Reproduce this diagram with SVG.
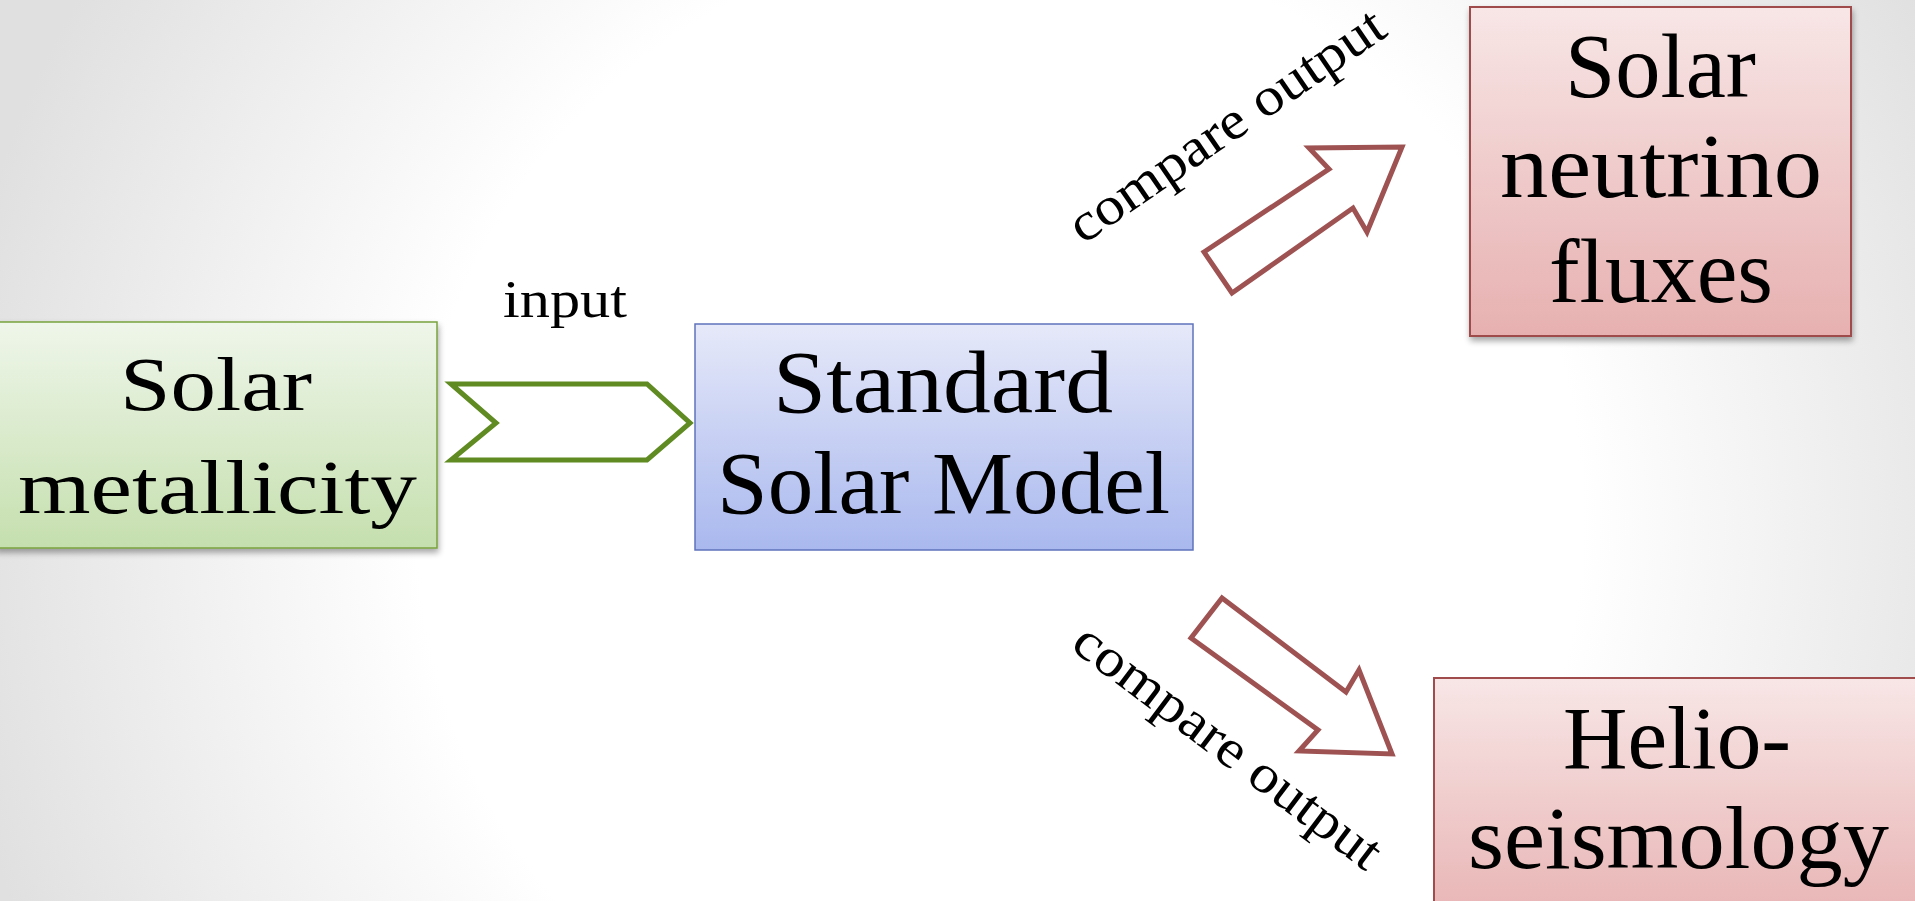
<svg xmlns="http://www.w3.org/2000/svg" width="1915" height="901" viewBox="0 0 1915 901">
<defs>
<radialGradient id="bg" gradientUnits="userSpaceOnUse" cx="1000" cy="520" r="1060">
<stop offset="0" stop-color="#ffffff"/>
<stop offset="0.55" stop-color="#ffffff"/>
<stop offset="1" stop-color="#e0e0e0"/>
</radialGradient>
<linearGradient id="gGreen" x1="0" y1="0" x2="0" y2="1">
<stop offset="0" stop-color="#eff6ea"/>
<stop offset="1" stop-color="#c5dfae"/>
</linearGradient>
<linearGradient id="gBlue" x1="0" y1="0" x2="0" y2="1">
<stop offset="0" stop-color="#e6e9f9"/>
<stop offset="1" stop-color="#a9b8ee"/>
</linearGradient>
<linearGradient id="gRed" x1="0" y1="0" x2="0" y2="1">
<stop offset="0" stop-color="#f8e6e6"/>
<stop offset="1" stop-color="#e7b0b0"/>
</linearGradient>
<filter id="sh" x="-10%" y="-10%" width="120%" height="125%">
<feGaussianBlur in="SourceAlpha" stdDeviation="3"/>
<feOffset dx="1" dy="4" result="b"/>
<feComponentTransfer><feFuncA type="linear" slope="0.35"/></feComponentTransfer>
<feMerge><feMergeNode/><feMergeNode in="SourceGraphic"/></feMerge>
</filter>
</defs>
<style>
.t{font-family:"Liberation Serif","Times New Roman",serif;fill:#000;text-anchor:start}
.box{stroke-width:1.5}
.green{fill:url(#gGreen);stroke:#78a23e}
.blue{fill:url(#gBlue);stroke:#5f73bb}
.red{fill:url(#gRed);stroke:#a04c4c;stroke-width:2}
.arrowR{fill:#ffffff;stroke:#9e5252;stroke-width:5;stroke-linejoin:miter}
.arrowG{fill:#ffffff;stroke:#5f8b22;stroke-width:5;stroke-linejoin:miter}
</style>
<rect x="0" y="0" width="1915" height="901" fill="url(#bg)"/>

<g id="node-metallicity">
<rect class="box green" x="-5" y="322" width="442" height="226" filter="url(#sh)"/>
<text class="t" x="120" y="410" font-size="76" textLength="192" lengthAdjust="spacingAndGlyphs">Solar</text>
<text class="t" x="18" y="513" font-size="76" textLength="399" lengthAdjust="spacingAndGlyphs">metallicity</text>
</g>

<g id="node-ssm">
<rect class="box blue" x="695" y="324" width="498" height="226"/>
<text class="t" x="773" y="412" font-size="89" textLength="340" lengthAdjust="spacingAndGlyphs">Standard</text>
<text class="t" x="717" y="513" font-size="89" textLength="453" lengthAdjust="spacingAndGlyphs">Solar Model</text>
</g>

<g id="node-neutrino">
<rect class="box red" x="1470" y="7" width="381" height="329" filter="url(#sh)"/>
<text class="t" x="1565" y="97" font-size="90" textLength="191" lengthAdjust="spacingAndGlyphs">Solar</text>
<text class="t" x="1500" y="197" font-size="90" textLength="322" lengthAdjust="spacingAndGlyphs">neutrino</text>
<text class="t" x="1549" y="302" font-size="90" textLength="224" lengthAdjust="spacingAndGlyphs">fluxes</text>
</g>

<g id="node-helio">
<rect class="box red" x="1434" y="678" width="500" height="260"/>
<text class="t" x="1563" y="768" font-size="88" textLength="228" lengthAdjust="spacingAndGlyphs">Helio-</text>
<text class="t" x="1468" y="868" font-size="88" textLength="421" lengthAdjust="spacingAndGlyphs">seismology</text>
</g>

<g id="connectors">
<polygon class="arrowG" points="451,384 647,384 690,423 647,460 451,460 496,423"/>
<text class="t" x="503" y="317" font-size="53" textLength="124" lengthAdjust="spacingAndGlyphs">input</text>
<polygon class="arrowR" points="1204,252 1329,169 1309,148 1402,147 1367,232 1353,208 1232,293"/>
<text class="t" font-size="54" textLength="372" lengthAdjust="spacingAndGlyphs" transform="translate(1083,245) rotate(-34.5)">compare output</text>
<polygon class="arrowR" points="1222,598 1346,692 1359,670 1392,754 1299,751 1318,730 1191,638"/>
<text class="t" font-size="54" textLength="372" lengthAdjust="spacingAndGlyphs" transform="translate(1069,648) rotate(37)">compare output</text>
</g>
</svg>
